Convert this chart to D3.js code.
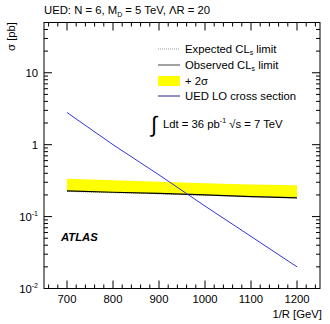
<!DOCTYPE html>
<html><head><meta charset="utf-8">
<script src="https://cdn.jsdelivr.net/npm/d3@7"></script>
<style>body{margin:0;background:#fff}svg{display:block}text{font-family:"Liberation Sans",Arial,sans-serif;fill:#000}</style>
</head><body>
<script>
const massPoints = [700, 800, 900, 1000, 1100, 1200];
const uedXsec = [2.8, 1.0, 0.38, 0.14, 0.053, 0.020];
const observedLimit = [0.228, 0.218, 0.21, 0.2, 0.19, 0.182];
const expectedLimit = [0.224, 0.215, 0.207, 0.198, 0.19, 0.185];
const bandUpper = [0.335, 0.32, 0.305, 0.29, 0.28, 0.272];
const xTicks = [700, 800, 900, 1000, 1100, 1200];
const yTicks = [0.01, 0.1, 1, 10];
const yTickLabels = [["10","-2"],["10","-1"],["1",""],["10",""]];

const W = 330, H = 324;
const L = 44, R = 320, T = 22.5, B = 288.5;
const FS = 11.3;
const svg = d3.select("body").append("svg").attr("width", W).attr("height", H);
const x = d3.scaleLinear().domain([650, 1250]).range([L, R]);
const y = d3.scaleLog().domain([0.01, 50]).range([B, T]);

// band
const bandData = massPoints.map((m, i) => ({m, lo: expectedLimit[i], hi: bandUpper[i]}));
svg.append("path").datum(bandData)
  .attr("d", d3.area().x(d => x(d.m)).y0(d => y(d.lo)).y1(d => y(d.hi)))
  .attr("fill", "#ffff00");

const line = d3.line().x((d, i) => x(massPoints[i])).y(d => y(d));
svg.append("path").datum(expectedLimit).attr("d", line).attr("fill", "none")
  .attr("stroke", "#999").attr("stroke-width", 1).attr("stroke-dasharray", "1,1");
svg.append("path").datum(observedLimit).attr("d", line).attr("fill", "none")
  .attr("stroke", "#000").attr("stroke-width", 1.2);
svg.append("path").datum(uedXsec).attr("d", line).attr("fill", "none")
  .attr("stroke", "#3333dd").attr("stroke-width", 1);

// frame
svg.append("rect").attr("x", L).attr("y", T).attr("width", R - L).attr("height", B - T)
  .attr("fill", "none").attr("stroke", "#000").attr("stroke-width", 1);

// x ticks (inside, top and bottom)
const xMinor = d3.range(660, 1250, 20);
const tg = svg.append("g").attr("stroke", "#000").attr("stroke-width", 1);
xMinor.forEach(v => {
  const major = v % 100 === 0;
  const len = major ? 8 : 4;
  tg.append("line").attr("x1", x(v)).attr("x2", x(v)).attr("y1", B).attr("y2", B - len);
  tg.append("line").attr("x1", x(v)).attr("x2", x(v)).attr("y1", T).attr("y2", T + len);
});
// y ticks
const yMinor = [];
for (let e = -2; e <= 1; e++) for (let k = 1; k <= 9; k++) {
  const v = k * Math.pow(10, e);
  if (v >= 0.01 && v <= 50) yMinor.push({v, major: k === 1});
}
yMinor.forEach(t => {
  const len = t.major ? 8 : 4;
  tg.append("line").attr("x1", L).attr("x2", L + len).attr("y1", y(t.v)).attr("y2", y(t.v));
  tg.append("line").attr("x1", R).attr("x2", R - len).attr("y1", y(t.v)).attr("y2", y(t.v));
});

// x tick labels
xTicks.forEach(v => {
  svg.append("text").attr("x", x(v)).attr("y", 303).attr("text-anchor", "middle")
    .attr("font-size", FS).text(v);
});
// y tick labels
yTicks.forEach((v, i) => {
  const [base, sup] = yTickLabels[i];
  const t = svg.append("text").attr("x", 38).attr("y", y(v) + 4)
    .attr("text-anchor", "end").attr("font-size", FS);
  t.append("tspan").text(base);
  if (sup) t.append("tspan").attr("font-size", 7).attr("dy", -5).text(sup);
});

// axis titles
svg.append("text").attr("x", 322).attr("y", 318).attr("text-anchor", "end")
  .attr("font-size", FS).text("1/R [GeV]");
svg.append("text").attr("transform", "translate(15,22) rotate(-90)").attr("text-anchor", "end")
  .attr("font-size", FS).text("σ [pb]");

// title
const title = svg.append("text").attr("x", 44).attr("y", 14).attr("font-size", FS);
title.append("tspan").text("UED: N = 6, M");
title.append("tspan").attr("font-size", 7).attr("dy", 3).text("D");
title.append("tspan").attr("dy", -3).text(" = 5 TeV, ΛR = 20");

// legend
const lx1 = 158, lx2 = 180, tx = 185;
const rows = [49, 65, 81, 96];
svg.append("line").attr("x1", lx1).attr("x2", lx2).attr("y1", rows[0]).attr("y2", rows[0])
  .attr("stroke", "#999").attr("stroke-dasharray", "1,1");
svg.append("line").attr("x1", lx1).attr("x2", lx2).attr("y1", rows[1]).attr("y2", rows[1])
  .attr("stroke", "#444").attr("stroke-width", 1);
svg.append("rect").attr("x", lx1).attr("y", rows[2] - 5).attr("width", lx2 - lx1).attr("height", 10)
  .attr("fill", "#ffff00");
svg.append("line").attr("x1", lx1).attr("x2", lx2).attr("y1", rows[3]).attr("y2", rows[3])
  .attr("stroke", "#222288").attr("stroke-width", 1);
function clsText(yy, pre, post) {
  const t = svg.append("text").attr("x", tx).attr("y", yy + 4).attr("font-size", FS);
  t.append("tspan").text(pre);
  t.append("tspan").attr("font-size", 7).attr("dy", 2).text("s");
  t.append("tspan").attr("dy", -2).text(post);
}
clsText(rows[0], "Expected CL", " limit");
clsText(rows[1], "Observed CL", " limit");
svg.append("text").attr("x", tx).attr("y", rows[2] + 4).attr("font-size", FS).text("+ 2σ");
svg.append("text").attr("x", tx).attr("y", rows[3] + 4).attr("font-size", FS).text("UED LO cross section");

// luminosity
svg.append("text").attr("x", 151).attr("y", 132).attr("font-size", 22).attr("font-family", "DejaVu Sans").text("∫");
const lum = svg.append("text").attr("x", 163).attr("y", 128).attr("font-size", FS);
lum.append("tspan").text("Ldt = 36 pb");
lum.append("tspan").attr("font-size", 7).attr("dy", -5).text("-1");
lum.append("tspan").attr("dy", 5).text("  √s = 7 TeV");

// ATLAS
svg.append("text").attr("x", 61).attr("y", 241).attr("font-size", FS)
  .attr("font-weight", "bold").attr("font-style", "italic").text("ATLAS");
</script>
</body></html>
